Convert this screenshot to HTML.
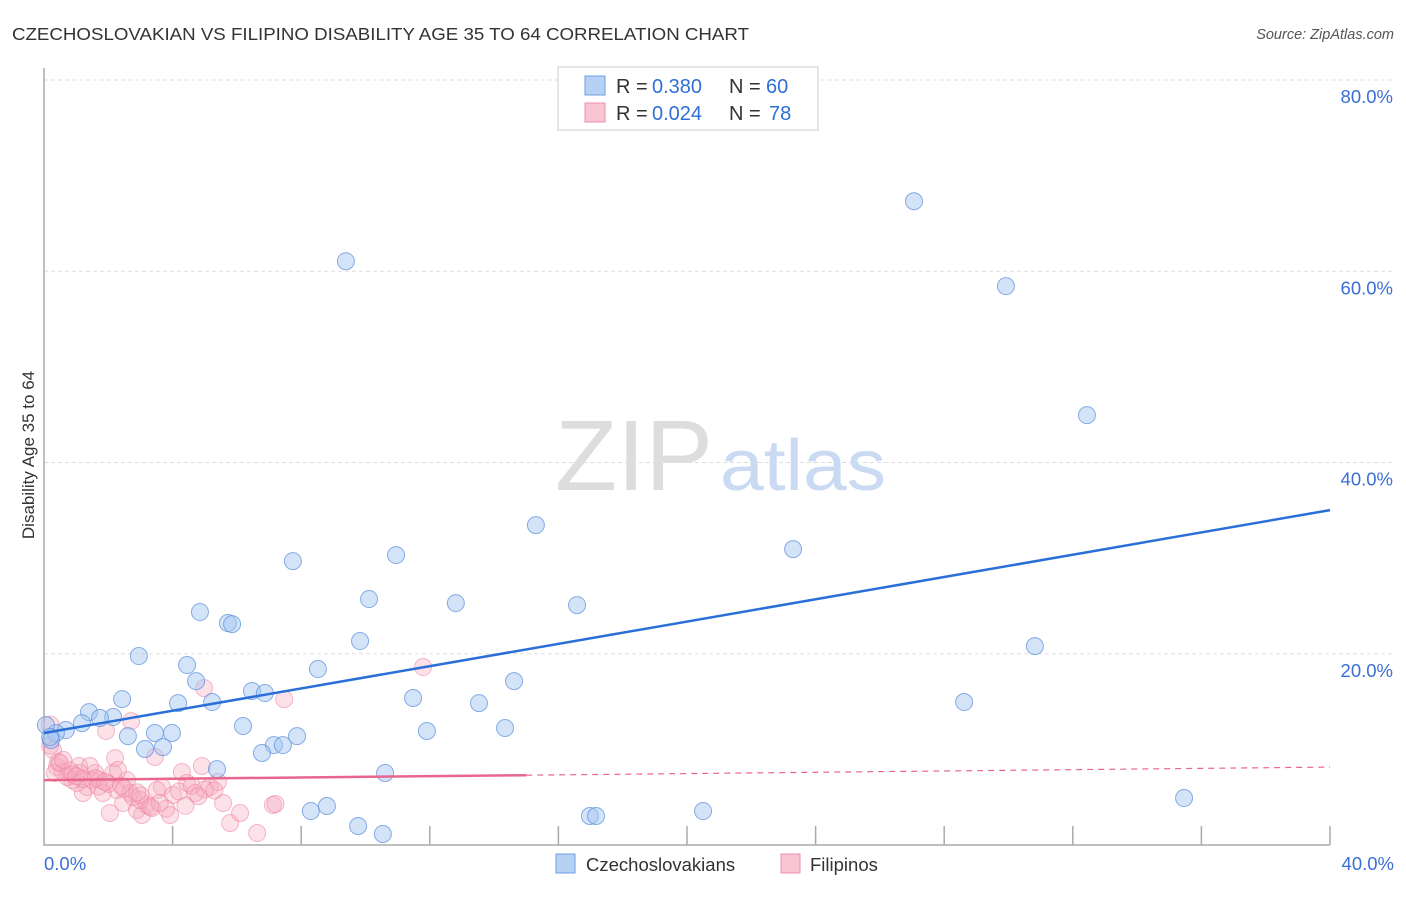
<!DOCTYPE html>
<html><head><meta charset="utf-8"><style>
body{margin:0;background:#fff;font-family:"Liberation Sans",sans-serif}
svg text{font-family:"Liberation Sans",sans-serif}
</style></head><body>
<svg id="c" width="1406" height="892" viewBox="0 0 1406 892">
<text x="12" y="40" font-size="17.5" fill="#333" textLength="737" lengthAdjust="spacingAndGlyphs">CZECHOSLOVAKIAN VS FILIPINO DISABILITY AGE 35 TO 64 CORRELATION CHART</text>
<text x="1394" y="39" font-size="14.5" fill="#555" text-anchor="end" font-style="italic">Source: ZipAtlas.com</text>
<text x="34" y="455" font-size="17" fill="#333" text-anchor="middle" transform="rotate(-90 34 455)">Disability Age 35 to 64</text>
<g id="grid"></g>
<text x="555" y="490" font-size="100" fill="#ddd" textLength="158" lengthAdjust="spacingAndGlyphs" font-family="Liberation Serif">ZIP</text>
<text x="720" y="490" font-size="72" fill="#c9daf2" textLength="166" lengthAdjust="spacingAndGlyphs">atlas</text>
<g id="pts"></g>
<g id="lines"></g>
<g>
<rect x="558" y="67" width="260" height="63" fill="#fff" stroke="#ccc"/>
<rect x="585" y="76" width="20" height="19" fill="#b7d1f5" stroke="#6f9ee0"/>
<rect x="585" y="103" width="20" height="19" fill="#f9c4d3" stroke="#ec8fab"/>
<text x="616" y="93" font-size="20" fill="#333">R =</text><text x="652" y="93" font-size="20" fill="#2f6fd6">0.380</text>
<text x="729" y="93" font-size="20" fill="#333">N =</text><text x="766" y="93" font-size="20" fill="#2f6fd6">60</text>
<text x="616" y="120" font-size="20" fill="#333">R =</text><text x="652" y="120" font-size="20" fill="#2f6fd6">0.024</text>
<text x="729" y="120" font-size="20" fill="#333">N =</text><text x="769" y="120" font-size="20" fill="#2f6fd6">78</text>
</g>
<g>
<rect x="556" y="854" width="19" height="19" fill="#b7d1f5" stroke="#6f9ee0"/>
<text x="586" y="871" font-size="18.5" fill="#333">Czechoslovakians</text>
<rect x="781" y="854" width="19" height="19" fill="#f9c4d3" stroke="#ec8fab"/>
<text x="810" y="871" font-size="18.5" fill="#333">Filipinos</text>
</g>
</svg>
<script>
const xTicksLabels=["0.0%","40.0%"];
const yTicks=[20,40,60,80];
const blueX=[9.39,27.06,29.92,32.44,15.30,10.95,7.74,23.30,10.11,12.81,16.58,4.85,5.72,5.85,9.83,2.95,30.82,4.45,8.52,4.73,14.62,2.43,6.47,6.87,4.17,5.23,11.48,13.53,28.62,1.40,2.15,1.74,1.18,6.19,14.34,11.91,0.68,0.37,3.98,3.45,2.61,7.87,0.22,7.15,7.43,3.14,3.70,6.78,10.61,5.38,35.46,8.30,8.80,20.50,16.98,17.17,9.77,10.54,0.06,0.19];
const blueY=[61.05,67.32,58.44,44.95,33.45,30.32,29.69,30.94,25.72,25.30,25.09,24.36,23.21,23.10,21.33,19.76,20.80,18.82,18.40,17.14,17.14,15.26,16.10,15.89,14.84,14.95,15.37,14.84,14.95,13.90,13.38,13.28,12.75,12.44,12.23,11.92,12.02,11.71,11.71,11.71,11.39,11.39,10.98,10.45,10.45,10.04,10.24,9.62,7.53,7.94,4.91,3.55,4.08,3.55,3.03,3.03,1.99,1.15,12.54,11.29];
const pinkX=[0.19,2.71,1.93,4.98,7.47,11.79,3.45,2.21,1.09,4.91,4.29,0.28,0.40,0.59,0.87,1.34,1.59,1.74,1.83,2.15,2.27,2.58,2.68,2.05,2.46,2.89,3.05,3.20,3.36,3.67,3.92,4.01,4.45,4.70,5.16,5.41,5.57,5.79,6.10,6.63,7.12,1.43,1.03,0.72,0.44,0.34,1.21,2.77,3.51,2.99,1.12,1.49,2.30,0.19,0.5,0.9,1.6,2.0,2.4,3.0,3.3,3.8,4.2,4.6,5.0,1.2,0.8,1.7,2.5,3.6,4.4,0.6,1.0,1.9,2.9,4.8,5.3,7.2];
const pinkY=[12.54,12.96,11.92,16.41,15.26,18.61,9.20,9.09,8.26,8.26,7.63,9.93,8.15,7.63,6.79,6.06,7.53,6.79,5.44,7.53,5.75,6.79,5.44,3.35,4.39,3.66,3.14,4.18,3.87,6.06,3.14,5.23,6.48,5.44,6.06,6.59,4.39,2.30,3.35,1.25,4.18,8.26,6.48,7.11,8.68,7.53,5.44,5.02,5.75,4.70,7.53,6.79,7.84,10.4,8.6,7.4,7.0,6.4,6.2,5.2,4.0,3.8,5.6,6.2,5.8,6.9,7.8,6.1,5.9,4.4,4.1,8.9,7.2,6.6,5.5,5.1,5.7,4.3];
const blueTrend=[11.71,35.02];
const pinkTrend=[6.79,8.15];
const NS="http://www.w3.org/2000/svg";
const X0=44,X1=1330,Y0=845,Y80=80;
const sx=v=>X0+v/40*(X1-X0);
const sy=v=>Y0-v/80*(Y0-Y80);
function mk(t,a,p){const e=document.createElementNS(NS,t);for(const k in a)e.setAttribute(k,a[k]);p.appendChild(e);return e;}
const grid=document.getElementById('grid');
yTicks.forEach(t=>{
 const l=mk('line',{x1:X0,x2:1394,y1:sy(t),y2:sy(t),stroke:'#ddd','stroke-dasharray':'4 3'},grid);
 
 
 const tx=mk('text',{x:1393,y:sy(t)+23,'font-size':18.5,fill:'#3b6fd4','text-anchor':'end'},grid);
 tx.textContent=t.toFixed(1)+'%';
 
 
});
const ax=mk('path',{d:`M${X0} 68V${Y0}H${X1}`,stroke:'#aaa',fill:'none','stroke-width':1.5},grid);


for(let i=1;i<=10;i++){
 const t=mk('line',{x1:sx(i*4),x2:sx(i*4),y1:Y0-19,y2:Y0,stroke:'#aaa','stroke-width':1.5},grid);
 
 
}
[[0,'start',X0],[40,'end',1394]].forEach((d,i)=>{
 const tx=mk('text',{x:d[2],y:870,'font-size':18.5,fill:'#3b6fd4','text-anchor':d[1]},grid);
 tx.textContent=xTicksLabels[i];
 
 
});
const pts=document.getElementById('pts');
pinkX.forEach((x,i)=>{
 const c=mk('circle',{cx:sx(x),cy:sy(pinkY[i]),r:i==0?9:8.5,fill:'rgba(246,170,192,0.35)',stroke:'rgba(236,130,160,0.55)'},pts);
 
 
});
blueX.forEach((x,i)=>{
 const c=mk('circle',{cx:sx(x),cy:sy(blueY[i]),r:8.5,fill:'rgba(160,195,240,0.45)',stroke:'rgba(90,140,220,0.7)'},pts);
 
 
});
const lines=document.getElementById('lines');
const bl=mk('line',{x1:sx(0),y1:sy(blueTrend[0]),x2:sx(40),y2:sy(blueTrend[1]),stroke:'#2a6fd8','stroke-width':2.5},lines);


const pm=pinkTrend[0]+(pinkTrend[1]-pinkTrend[0])*15/40;
const pl=mk('line',{x1:sx(0),y1:sy(pinkTrend[0]),x2:sx(15),y2:sy(pm),stroke:'#e8668e','stroke-width':2.5},lines);


const pd=mk('line',{x1:sx(15),y1:sy(pm),x2:sx(40),y2:sy(pinkTrend[1]),stroke:'#e8668e','stroke-width':1.2,'stroke-dasharray':'6 5'},lines);


</script>
</body></html>
